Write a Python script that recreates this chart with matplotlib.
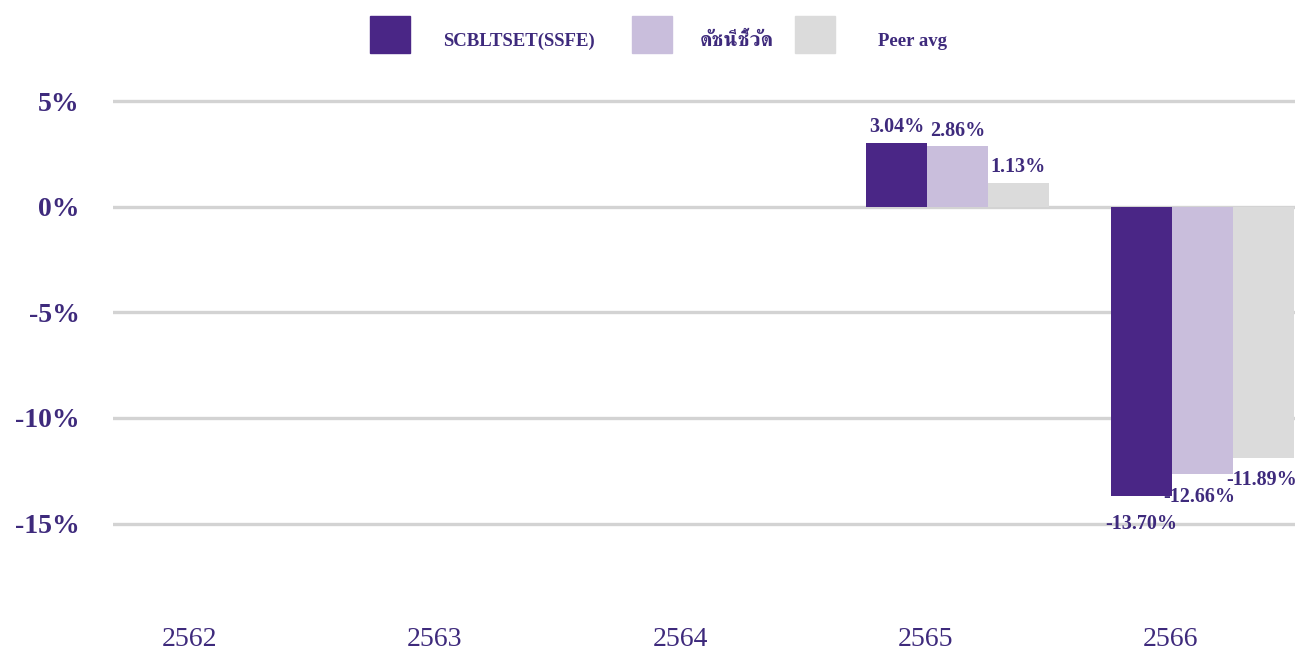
import matplotlib
matplotlib.use("Agg")
import matplotlib.pyplot as plt
import matplotlib.font_manager as fm
from matplotlib.ft2font import FT2Font
from matplotlib.patches import Rectangle
import numpy as np

years = ["2562", "2563", "2564", "2565", "2566"]
series_names = ["SCBLTSET(SSFE)", "ดัชนีชี้วัด", "Peer avg"]
fund = [np.nan, np.nan, np.nan, 3.04, -13.70]
bench = [np.nan, np.nan, np.nan, 2.86, -12.66]
peer = [np.nan, np.nan, np.nan, 1.13, -11.89]
y_ticks = [5, 0, -5, -10, -15]

colors = ["#4a2686", "#c9bedc", "#dbdbdb"]
txt_col = "#3e2a7c"

# look for an installed font that has Thai glyphs
thai_font = None
cands = sorted(fm.fontManager.ttflist, key=lambda f: ("Serif" not in f.name, f.name))
for f in cands:
    try:
        if 0x0E14 in FT2Font(f.fname).get_charmap():
            thai_font = f.name
            break
    except Exception:
        pass
fams = ["Liberation Serif", "DejaVu Serif"]
if thai_font:
    fams = ["Liberation Serif", thai_font, "DejaVu Serif"]
plt.rcParams["font.family"] = fams

W, H = 1295, 653
fig = plt.figure(figsize=(W / 100, H / 100), dpi=100)
ax = fig.add_axes([113 / W, 1 - 608 / H, (W - 113) / W, (608 - 80) / H])

x = np.arange(len(years))
w = 0.248
offs = [-0.5 * w + 0.008, 0.5 * w + 0.008, 1.5 * w + 0.008]
data = [fund, bench, peer]

for k in range(3):
    vals = np.array(data[k], dtype=float)
    ax.bar(x + offs[k], vals, width=w, color=colors[k], zorder=3)
    for i, v in enumerate(vals):
        if np.isnan(v):
            continue
        lab = f"{v:.2f}%"
        if v >= 0:
            ax.annotate(lab, (x[i] + offs[k], v), xytext=(0, 4), textcoords="offset points",
                        ha="center", va="bottom", fontsize=14.5, fontweight="bold",
                        color=txt_col, zorder=4)
        else:
            dx = [0, -2, -1][k]
            dy = [-13, -9, -9][k]
            ax.annotate(lab, (x[i] + offs[k], v), xytext=(dx, dy), textcoords="offset points",
                        ha="center", va="top", fontsize=14.5, fontweight="bold",
                        color=txt_col, zorder=2)

ax.set_ylim(-19, 6)
ax.set_xlim(-0.314, 4.51)
ax.set_yticks(y_ticks)
ax.set_yticklabels([f"{t}%" for t in y_ticks], fontsize=20, fontweight="bold", color=txt_col)
ax.set_xticks(x)
ax.set_xticklabels(years, fontsize=20, color=txt_col)
ax.tick_params(axis="y", length=0, pad=24)
ax.tick_params(axis="x", length=0, pad=14)
ax.grid(axis="y", color="#d3d3d3", linewidth=2.4, zorder=0)
ax.set_axisbelow(True)
for s in ax.spines.values():
    s.set_visible(False)

# legend drawn in figure pixels
leg_patch_x = [370, 632, 795]
leg_text_x = [443, 700, 878]
leg_size = [13.5, 15, 13.5]
for k in range(3):
    fig.add_artist(Rectangle((leg_patch_x[k] / W, 1 - 53 / H), 40 / W, 37 / H,
                             transform=fig.transFigure, color=colors[k]))
    fig.text(leg_text_x[k] / W, 1 - 41 / H, series_names[k], fontsize=leg_size[k],
             fontweight="bold", color=txt_col, ha="left", va="center")

fig.savefig("out.png", dpi=100)
